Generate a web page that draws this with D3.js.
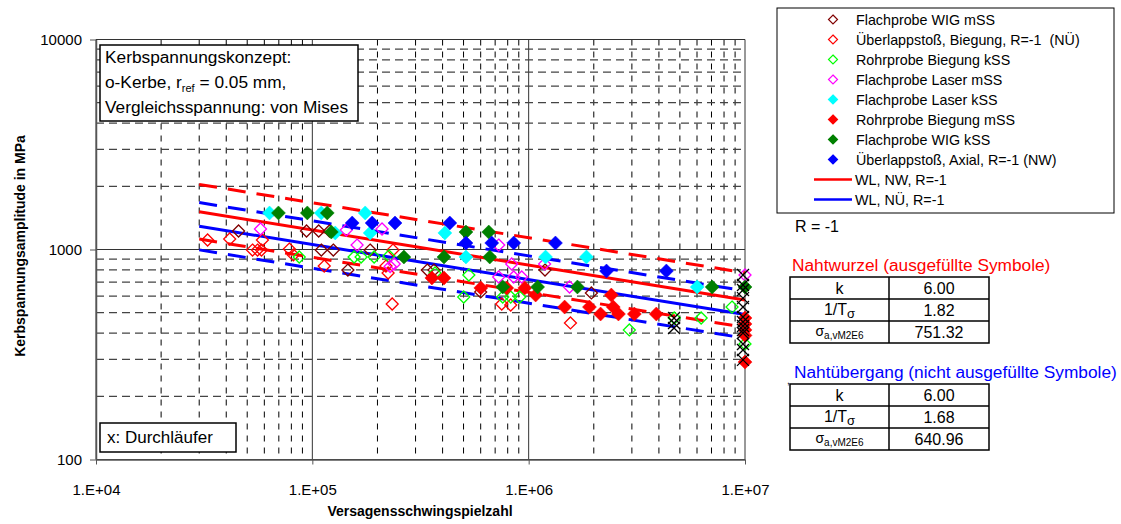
<!DOCTYPE html>
<html>
<head>
<meta charset="utf-8">
<script src="https://cdn.jsdelivr.net/npm/d3@7"></script>
<style>
  body { margin: 0; background: #fff; }
  svg { display: block; font-family: "Liberation Sans", Arial, sans-serif; }
  text { white-space: pre; }
</style>
</head>
<body>
<svg id="chart" width="1121" height="524"></svg>
<script>
// ---- data (N = cycles to failure, S = notch stress amplitude in MPa) ----
const seriesNames = [
  'Flachprobe WIG mSS',
  'Überlappstoß, Biegung, R=-1  (NÜ)',
  'Rohrprobe Biegung kSS',
  'Flachprobe Laser mSS',
  'Flachprobe Laser kSS',
  'Rohrprobe Biegung mSS',
  'Flachprobe WIG kSS',
  'Überlappstoß, Axial, R=-1 (NW)'
];

const flachWigMSS = [
  [4.56e4, 1225], [9.4e4, 1225], [1.07e5, 1225], [1.2e5, 1225], [1.1e5, 994],
  [1.25e5, 994], [1.85e5, 994], [1.46e5, 798], [3.4e5, 798], [3.65e5, 798],
  [6.0e5, 628], [1.19e6, 798], [1.95e6, 621]
];
const ueberlappBiegung = [
  [3.28e4, 1110], [4.15e4, 1122], [5.88e4, 1110], [5.29e4, 994], [5.58e4, 994],
  [5.82e4, 994], [7.83e4, 1005], [8.17e4, 942], [1.135e5, 834], [2.36e5, 994],
  [2.19e5, 834], [2.24e5, 773], [2.34e5, 550], [7.51e5, 550], [8.26e5, 544],
  [1.56e6, 447]
];
const rohrBiegungKSS = [
  [8.7e4, 921], [1.56e5, 921], [1.68e5, 921], [1.93e5, 921], [2.26e5, 931],
  [3.69e5, 773], [5.29e5, 756], [5.01e5, 594], [7.59e5, 594], [8.26e5, 594],
  [9.09e5, 594], [2.92e6, 414], [4.71e6, 472], [6.27e6, 472], [8.71e6, 532],
  [1e7, 355]
];
const flachLaserMSS = [
  [5.76e4, 1252], [1.435e5, 1238], [2.1e5, 1252], [1.61e5, 1050], [2.39e5, 853],
  [2.29e5, 830], [7.27e5, 1050], [8.35e5, 853], [1.185e6, 853], [7.27e5, 740],
  [8.53e5, 740], [9.29e5, 740], [1.545e6, 663], [1e7, 756]
];
const flachLaserKSS = [
  [6.34e4, 1493], [1.1e5, 1493], [1.276e5, 1199], [1.755e5, 1493], [1.85e5, 1199],
  [4.1e5, 1199], [5.13e5, 921], [1.197e6, 921], [1.85e6, 921], [6.01e6, 663]
];
const rohrBiegungMSS = [
  [3.57e5, 732], [4.06e5, 732], [6.01e5, 656], [7.92e5, 656], [9.59e5, 656],
  [1.077e6, 607], [1.466e6, 532], [1.91e6, 532], [2.15e6, 493], [2.41e6, 607],
  [2.46e6, 532], [2.6e6, 493], [3.08e6, 493], [3.89e6, 493], [1e7, 472],
  [1e7, 442], [1e7, 414], [1e7, 390], [1e7, 291]
];
const flachWigKSS = [
  [6.97e4, 1493], [9.48e4, 1493], [1.172e5, 1493], [1.224e5, 1211], [2.65e5, 921],
  [4.06e5, 921], [5.13e5, 1211], [6.54e5, 1211], [6.61e5, 921], [7.59e5, 663],
  [1.1e6, 663], [1.68e6, 663], [7.05e6, 663], [1e7, 663]
];
const ueberlappAxial = [
  [1.528e5, 1337], [1.89e5, 1337], [2.41e5, 1337], [4.32e5, 1337], [5.13e5, 1074],
  [6.75e5, 1074], [8.53e5, 1074], [1.33e6, 1074], [2.29e6, 790], [4.33e6, 790]
];
// runouts (Durchläufer)
const runouts = [
  [4.8e6, 472], [4.8e6, 447], [4.8e6, 423],
  [1e7, 756], [1e7, 678], [1e7, 642], [1e7, 587], [1e7, 532], [1e7, 477], [1e7, 452],
  [1e7, 432], [1e7, 414], [1e7, 400], [1e7, 355], [1e7, 332], [1e7, 298]
];

// fitted S-N lines (from tables)
const lineNames = ['WL, NW, R=-1', 'WL, NÜ, R=-1'];
const lineK = [6.00, 6.00];
const lineInvT = [1.82, 1.68];
const lineSigma = [751.32, 640.96];
const lineRangeN = [3e4, 1e7];
const refN = 2e6;

const xTicks = [1e4, 1e5, 1e6, 1e7];
const xTickLabels = ['1.E+04', '1.E+05', '1.E+06', '1.E+07'];
const yTicks = [100, 1000, 10000];
const yTickLabels = ['100', '1000', '10000'];

// ---- styles ----
const allSeries = [flachWigMSS, ueberlappBiegung, rohrBiegungKSS, flachLaserMSS,
                   flachLaserKSS, rohrBiegungMSS, flachWigKSS, ueberlappAxial];
const seriesColors = ['#800000', '#FF0000', '#00FF00', '#FF00FF', '#00FFFF', '#FF0000', '#008000', '#0000FF'];
const seriesFilled = [false, false, false, false, true, true, true, true];
const lineColors = ['#FF0000', '#0000FF'];

const plotL = 96, plotR = 745, plotT = 39.5, plotB = 459.5;
const svg = d3.select('#chart');

const x = d3.scaleLog().domain([1e4, 1e7]).range([plotL, plotR]);
const y = d3.scaleLog().domain([100, 10000]).range([plotB, plotT]);

// grid
const grid = svg.append('g');
x.ticks().forEach(v => {
  const major = xTicks.includes(v);
  grid.append('line')
    .attr('x1', x(v)).attr('x2', x(v)).attr('y1', plotT).attr('y2', plotB)
    .attr('stroke', major ? '#333' : '#000')
    .attr('stroke-width', 1)
    .attr('stroke-dasharray', major ? null : '6,6');
});
y.ticks().forEach(v => {
  const major = yTicks.includes(v);
  grid.append('line')
    .attr('x1', plotL).attr('x2', plotR).attr('y1', y(v)).attr('y2', y(v))
    .attr('stroke', major ? '#333' : '#444')
    .attr('stroke-width', major ? 1 : 1.2)
    .attr('stroke-dasharray', major ? null : '8,5');
});

// axes
svg.append('g')
  .attr('transform', `translate(0,${plotB})`)
  .call(d3.axisBottom(x).tickValues(xTicks).tickFormat((d, i) => xTickLabels[i]).tickSize(5).tickSizeOuter(0).tickPadding(20))
  .call(g => g.select('.domain').attr('stroke', '#555').attr('stroke-width', 1.5))
  .call(g => g.selectAll('.tick line').attr('stroke', '#555'))
  .call(g => g.selectAll('text').attr('font-size', 15).attr('fill', '#000').attr('font-family', null));

svg.append('g')
  .attr('transform', `translate(${plotL},0)`)
  .call(d3.axisLeft(y).tickValues(yTicks).tickFormat((d, i) => yTickLabels[i]).tickSize(6).tickSizeOuter(0).tickPadding(8))
  .call(g => g.select('.domain').attr('stroke', '#555').attr('stroke-width', 1.5))
  .call(g => g.selectAll('.tick line').attr('stroke', '#555'))
  .call(g => g.selectAll('text').attr('font-size', 15).attr('fill', '#000').attr('font-family', null));

// axis titles
svg.append('text')
  .attr('x', 420).attr('y', 516)
  .attr('text-anchor', 'middle').attr('font-weight', 'bold').attr('font-size', 14)
  .text('Versagensschwingspielzahl');
svg.append('text')
  .attr('transform', 'translate(25,246) rotate(-90)')
  .attr('text-anchor', 'middle').attr('font-weight', 'bold').attr('font-size', 14)
  .text('Kerbspannungsamplitude in MPa');

// text box upper left
svg.append('rect').attr('x', 100).attr('y', 45).attr('width', 258).attr('height', 76)
  .attr('fill', '#fff').attr('stroke', '#000').attr('stroke-width', 1.5);
const info = svg.append('text').attr('font-size', 17.3);
info.append('tspan').attr('x', 105).attr('y', 63).text('Kerbspannungskonzept:');
const l2 = info.append('tspan').attr('x', 105).attr('y', 88);
l2.append('tspan').text('o-Kerbe, r');
l2.append('tspan').attr('font-size', 11).attr('dy', 4).text('ref');
l2.append('tspan').attr('dy', -4).text(' = 0.05 mm,');
info.append('tspan').attr('x', 105).attr('y', 113).text('Vergleichsspannung: von Mises');

// runout note
svg.append('rect').attr('x', 100).attr('y', 423).attr('width', 136).attr('height', 29)
  .attr('fill', '#fff').attr('stroke', '#000').attr('stroke-width', 1.5);
svg.append('text').attr('x', 107).attr('y', 443).attr('font-size', 17).text('x: Durchläufer');

// fitted lines (mean solid, scatter band dashed)
const lineGen = d3.line().x(d => x(d[0])).y(d => y(d[1]));
lineNames.forEach((name, i) => {
  const band = Math.sqrt(lineInvT[i]);
  [1, band, 1 / band].forEach((f, j) => {
    const pts = lineRangeN.map(n => [n, f * lineSigma[i] * Math.pow(refN / n, 1 / lineK[i])]);
    svg.append('path').datum(pts)
      .attr('d', lineGen)
      .attr('fill', 'none')
      .attr('stroke', lineColors[i])
      .attr('stroke-width', 3)
      .attr('stroke-dasharray', j === 0 ? null : '18,11');
  });
});

// markers
const diamond = r => `M0,${-r}L${r},0L0,${r}L${-r},0Z`;
allSeries.forEach((data, i) => {
  svg.append('g').selectAll('path')
    .data(data)
    .enter()
    .append('path')
    .attr('transform', d => `translate(${x(d[0])},${y(d[1])})`)
    .attr('d', seriesFilled[i] ? diamond(7) : diamond(6))
    .attr('fill', seriesFilled[i] ? seriesColors[i] : 'none')
    .attr('stroke', seriesColors[i])
    .attr('stroke-width', seriesFilled[i] ? 0.5 : 1.3);
});
svg.append('g').selectAll('path')
  .data(runouts)
  .enter()
  .append('path')
  .attr('transform', d => `translate(${x(d[0]) - 2},${y(d[1])})`)
  .attr('d', 'M-6,-6L6,6M-6,6L6,-6')
  .attr('stroke', '#000')
  .attr('stroke-width', 1.3);

// legend
svg.append('rect').attr('x', 777).attr('y', 8).attr('width', 337).attr('height', 205)
  .attr('fill', '#fff').attr('stroke', '#000').attr('stroke-width', 1);
seriesNames.forEach((name, i) => {
  const ly = 19.5 + i * 20;
  svg.append('path')
    .attr('transform', `translate(833,${ly})`)
    .attr('d', diamond(4.5))
    .attr('fill', seriesFilled[i] ? seriesColors[i] : 'none')
    .attr('stroke', seriesColors[i])
    .attr('stroke-width', 1.2);
  svg.append('text').attr('x', 856).attr('y', ly + 5.5).attr('font-size', 14.3).text(name);
});
lineNames.forEach((name, i) => {
  const ly = 179.5 + i * 20;
  svg.append('line').attr('x1', 814).attr('x2', 852).attr('y1', ly).attr('y2', ly)
    .attr('stroke', lineColors[i]).attr('stroke-width', 2.5);
  svg.append('text').attr('x', 855).attr('y', ly + 5.5).attr('font-size', 14.3).text(name);
});
svg.append('text').attr('x', 795).attr('y', 232).attr('font-size', 16).text('R = -1');

// parameter tables
function paramTable(title, color, tx, ty, top0, idx) {
  svg.append('text').attr('x', tx).attr('y', ty).attr('font-size', 17.3).attr('fill', color).text(title);
  const tl = 790, tw = 199, rh = 22, cx = 889;
  const g = svg.append('g');
  g.append('rect').attr('x', tl).attr('y', top0).attr('width', tw).attr('height', rh * 3)
    .attr('fill', 'none').attr('stroke', '#000').attr('stroke-width', 1.5);
  [1, 2].forEach(r => g.append('line').attr('x1', tl).attr('x2', tl + tw)
    .attr('y1', top0 + r * rh).attr('y2', top0 + r * rh).attr('stroke', '#000').attr('stroke-width', 1.5));
  g.append('line').attr('x1', cx).attr('x2', cx).attr('y1', top0).attr('y2', top0 + rh * 3)
    .attr('stroke', '#000').attr('stroke-width', 1.5);
  const midL = (tl + cx) / 2, midR = (cx + tl + tw) / 2;
  g.append('text').attr('x', midL).attr('y', top0 + 17).attr('text-anchor', 'middle').attr('font-size', 16).text('k');
  const t2 = g.append('text').attr('x', midL).attr('y', rh + top0 + 16).attr('text-anchor', 'middle').attr('font-size', 16);
  t2.append('tspan').text('1/T');
  t2.append('tspan').attr('font-size', 13).attr('dy', 3).text('σ');
  const t3 = g.append('text').attr('x', midL).attr('y', 2 * rh + top0 + 15).attr('text-anchor', 'middle').attr('font-size', 14);
  t3.append('tspan').text('σ');
  t3.append('tspan').attr('font-size', 10).attr('dy', 3).text('a,vM2E6');
  const vals = [lineK[idx].toFixed(2), lineInvT[idx].toFixed(2), lineSigma[idx].toFixed(2)];
  vals.forEach((v, r) => g.append('text').attr('x', midR).attr('y', top0 + r * rh + 17)
    .attr('text-anchor', 'middle').attr('font-size', 16).text(v));
}
paramTable('Nahtwurzel (ausgefüllte Symbole)', '#FF0000', 792, 271, 277, 0);
paramTable('Nahtübergang (nicht ausgefüllte Symbole)', '#0000FF', 794, 378, 384, 1);
svg.append('text').attr('x', 787).attr('y', 384).attr('font-size', 10).text(',');
</script>
</body>
</html>
